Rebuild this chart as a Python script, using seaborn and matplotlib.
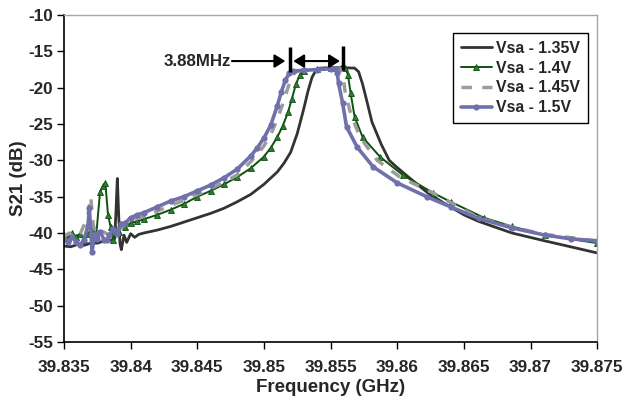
import matplotlib
matplotlib.use("Agg")
import matplotlib.pyplot as plt
import seaborn as sns

# measured S21 vs frequency, four bias voltages
freq_135 = [39.835, 39.8355, 39.836, 39.8365, 39.837, 39.8375, 39.838, 39.8385, 39.8388, 39.8389,
            39.8390, 39.8391, 39.8392, 39.8393, 39.8395, 39.8397, 39.8400, 39.8403, 39.8406, 39.841,
            39.842, 39.843, 39.844, 39.845, 39.846, 39.847, 39.848, 39.849, 39.850, 39.851,
            39.8515, 39.852, 39.8525, 39.853, 39.8533, 39.8536, 39.8539, 39.8542, 39.855, 39.856,
            39.8568, 39.8571, 39.8574, 39.8577, 39.8581, 39.8588, 39.8594, 39.860, 39.8611, 39.8623,
            39.8636, 39.865, 39.8661, 39.8686, 39.8711, 39.873, 39.875]
s21_135 = [-41.8, -41.9, -41.6, -41.7, -41.4, -41.4, -41.1, -41.0, -40.8, -37.0,
           -32.5, -37.5, -41.5, -42.3, -40.3, -41.3, -40.1, -40.6, -40.2, -40.0,
           -39.6, -39.1, -38.5, -37.9, -37.3, -36.6, -35.7, -34.7, -33.3, -31.6,
           -30.4, -28.9, -26.3, -22.8, -20.5, -18.6, -17.6, -17.3, -17.25, -17.25,
           -17.3, -17.8, -19.5, -21.7, -24.7, -27.8, -30.0, -31.0, -32.7, -34.5,
           -36.0, -37.5, -38.4, -40.0, -41.1, -41.9, -42.75]

freq_14 = [39.835, 39.8353, 39.8356, 39.8359, 39.8362, 39.8365, 39.8368, 39.8371, 39.8374, 39.8377,
           39.8379, 39.8381, 39.8383, 39.8385, 39.8387, 39.8389, 39.8391, 39.8393, 39.8396, 39.840,
           39.8405, 39.841, 39.842, 39.843, 39.844, 39.845, 39.846, 39.847, 39.848, 39.849,
           39.850, 39.8505, 39.851, 39.8514, 39.8518, 39.8521, 39.8524, 39.8527, 39.853, 39.854,
           39.855, 39.8558, 39.8561, 39.8563, 39.8565, 39.8568, 39.8574, 39.8587, 39.8604, 39.8627,
           39.864, 39.8665, 39.8686, 39.8711, 39.875]
s21_14 = [-40.3, -40.7, -40.0, -40.5, -40.1, -40.9, -40.2, -39.5, -40.6, -34.4,
          -33.6, -33.1, -37.5, -39.2, -41.0, -39.5, -39.8, -38.8, -39.2, -38.6,
          -38.4, -38.1, -37.5, -36.8, -36.0, -35.0, -34.2, -33.3, -32.3, -31.1,
          -29.5, -28.3, -26.8, -25.3, -23.4, -21.5, -19.5, -18.2, -17.7, -17.4,
          -17.3, -17.25, -17.3, -18.2, -20.7, -24.0, -26.8, -29.5, -32.0, -34.5,
          -35.7, -37.9, -39.1, -40.3, -41.4]

freq_145 = [39.835, 39.8354, 39.8358, 39.8362, 39.8366, 39.8368, 39.8370, 39.8372, 39.8375, 39.8379,
            39.8383, 39.8387, 39.839, 39.8395, 39.840, 39.841, 39.842, 39.843, 39.844, 39.845,
            39.846, 39.847, 39.848, 39.849, 39.8495, 39.850, 39.8505, 39.851, 39.8514, 39.8518,
            39.8521, 39.8525, 39.853, 39.854, 39.855, 39.8557, 39.8559, 39.8561, 39.8565, 39.8572,
            39.8585, 39.8602, 39.8627, 39.864, 39.8661, 39.8686, 39.8711, 39.875]
s21_145 = [-40.5, -40.0, -40.7, -40.2, -38.5, -37.5, -35.0, -39.0, -40.5, -39.8,
           -40.2, -39.5, -39.6, -39.0, -38.3, -37.7, -37.0, -36.2, -35.5, -34.7,
           -33.9, -33.0, -32.0, -30.2, -29.2, -28.0, -26.5, -24.3, -22.3, -20.0,
           -18.3, -17.7, -17.6, -17.5, -17.4, -17.4, -18.0, -20.7, -23.5, -26.8,
           -30.0, -32.3, -34.5, -35.8, -37.9, -39.2, -40.2, -41.1]

freq_15 = [39.835, 39.8353, 39.8356, 39.8359, 39.8362, 39.8365, 39.8368, 39.8369, 39.8371, 39.8373,
           39.8375, 39.8377, 39.838, 39.8382, 39.8384, 39.8387, 39.839, 39.8393, 39.8396, 39.840,
           39.8405, 39.841, 39.842, 39.843, 39.844, 39.845, 39.846, 39.847, 39.848, 39.849,
           39.8495, 39.850, 39.8505, 39.851, 39.8513, 39.8516, 39.8519, 39.8522, 39.853, 39.854,
           39.855, 39.8554, 39.8555, 39.8556, 39.8559, 39.8562, 39.8570, 39.8582, 39.8600, 39.8622,
           39.8640, 39.8661, 39.8686, 39.8711, 39.873, 39.875]
s21_15 = [-40.8, -41.3, -40.5, -41.2, -41.7, -40.9, -39.0, -36.5, -42.6, -40.2,
          -40.8, -39.8, -40.9, -41.0, -40.3, -39.4, -40.1, -38.8, -38.6, -37.9,
          -37.5, -37.2, -36.4, -35.6, -35.0, -34.2, -33.4, -32.4, -31.2, -29.4,
          -28.3, -26.9, -25.2, -22.5, -20.6, -19.0, -18.0, -17.7, -17.6, -17.5,
          -17.4, -17.4, -18.0, -19.4, -22.1, -25.4, -28.2, -30.9, -33.1, -35.0,
          -36.4, -38.0, -39.3, -40.3, -40.8, -41.1]

labels = ["Vsa - 1.35V", "Vsa - 1.4V", "Vsa - 1.45V", "Vsa - 1.5V"]
x_ticks = [39.835, 39.84, 39.845, 39.85, 39.855, 39.86, 39.865, 39.87, 39.875]
x_tick_labels = ["39.835", "39.84", "39.845", "39.85", "39.855", "39.86", "39.865", "39.87", "39.875"]
y_ticks = [-55, -50, -45, -40, -35, -30, -25, -20, -15, -10]

sns.set_theme(style="white")
plt.rcParams['font.family'] = ['Liberation Sans', 'DejaVu Sans']
plt.rcParams['font.weight'] = 'bold'
plt.rcParams['axes.unicode_minus'] = False

fig, ax = plt.subplots(figsize=(6.24, 4.08), dpi=100)
fig.subplots_adjust(left=0.1026, right=0.957, top=0.963, bottom=0.162)

sns.lineplot(x=freq_135, y=s21_135, ax=ax, color='#333333', linewidth=2.0,
             estimator=None, sort=False, label=labels[0])
sns.lineplot(x=freq_14, y=s21_14, ax=ax, color='#0f4f0f', linewidth=1.4,
             marker='^', markersize=3.8, markerfacecolor='#2e7d32', markeredgecolor='#0f4f0f',
             markeredgewidth=0.6, estimator=None, sort=False, label=labels[1])
sns.lineplot(x=freq_145, y=s21_145, ax=ax, color='#9c9c9c', linewidth=2.5,
             linestyle=(0, (3, 3)), estimator=None, sort=False, label=labels[2])
sns.lineplot(x=freq_15, y=s21_15, ax=ax, color='#7070ad', linewidth=2.6,
             marker='o', markersize=4.5, markeredgewidth=0, estimator=None, sort=False,
             label=labels[3])

ax.set_xlim(39.835, 39.875)
ax.set_ylim(-55, -10)
ax.set_xticks(x_ticks)
ax.set_xticklabels(x_tick_labels)
ax.set_yticks(y_ticks)
ax.tick_params(axis='both', labelsize=12.3, direction='out', length=5, width=1,
               color='black', bottom=True, left=True)
ax.tick_params(axis='x', pad=8)
ax.tick_params(axis='y', pad=3)
ax.set_xlabel("Frequency (GHz)", fontsize=13.5, fontweight='bold', labelpad=3)
ax.set_ylabel("S21 (dB)", fontsize=13.5, fontweight='bold', labelpad=1)

for side in ['left', 'bottom']:
    ax.spines[side].set_color('black')
    ax.spines[side].set_linewidth(1.2)
for side in ['top', 'right']:
    ax.spines[side].set_color('#a6a6a6')
    ax.spines[side].set_linewidth(1.0)

# bandwidth annotation
bar_left, bar_right = 39.85196, 39.85593
ax.vlines([bar_left, bar_right], [-17.84, -17.6], [-14.4, -14.3], colors='black', linewidth=2.5)
ax.text(39.8475, -16.33, "3.88MHz", ha='right', va='center', fontsize=12.2, fontweight='bold')
ax.annotate('', xy=(39.8516, -16.33), xytext=(39.8476, -16.33),
            arrowprops=dict(arrowstyle='-|>,head_length=0.4,head_width=0.25',
                            mutation_scale=16, color='black', lw=1.5,
                            shrinkA=0, shrinkB=0))
ax.annotate('', xy=(39.8557, -16.33), xytext=(39.8522, -16.33),
            arrowprops=dict(arrowstyle='<|-|>,head_length=0.4,head_width=0.25',
                            mutation_scale=16, color='black', lw=1.5,
                            shrinkA=0, shrinkB=0))

leg = ax.legend(loc='upper right', bbox_to_anchor=(0.983, 0.945), frameon=True,
                fancybox=False, edgecolor='black', framealpha=1, fontsize=11.4,
                handlelength=2.0, handletextpad=0.25, labelspacing=0.3, borderpad=0.5,
                borderaxespad=0)
leg.get_frame().set_linewidth(1.0)
for t in leg.get_texts():
    t.set_fontweight('bold')

fig.savefig("out.png", dpi=100)
